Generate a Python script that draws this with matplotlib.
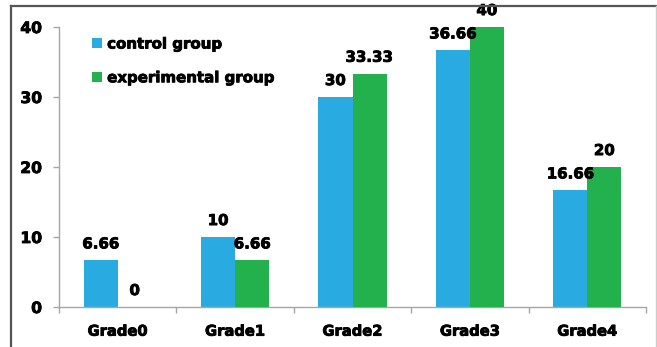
import matplotlib
matplotlib.use("Agg")
import matplotlib.pyplot as plt
from matplotlib.lines import Line2D
import matplotlib.patheffects as pe
import numpy as np

categories = ["Grade0", "Grade1", "Grade2", "Grade3", "Grade4"]
control = [6.66, 10, 30, 36.66, 16.66]
experimental = [0, 6.66, 33.33, 40, 20]
control_labels = ["6.66", "10", "30", "36.66", "16.66"]
experimental_labels = ["0", "6.66", "33.33", "40", "20"]
series_names = ["control group", "experimental group"]
yticks = [0, 10, 20, 30, 40]

c_blue = "#29ABE2"
c_green = "#22B14C"

plt.rcParams['font.family'] = ['DejaVu Sans']
plt.rcParams['font.weight'] = 'bold'

heavy = [pe.withStroke(linewidth=0.6, foreground="black")]

W, H = 657, 347
fig = plt.figure(figsize=(W / 100, H / 100), dpi=100)
ax = fig.add_axes([59 / W, 1 - 307 / H, (646 - 59) / W, (307 - 27) / H])

x = np.arange(len(categories))
bw = 0.29
b1 = ax.bar(x - bw / 2, control, bw, color=c_blue, label=series_names[0], zorder=2)
b2 = ax.bar(x + bw / 2, experimental, bw, color=c_green, label=series_names[1], zorder=3)

for xi, v, t in zip(x - bw / 2, control, control_labels):
    ax.annotate(t, (xi, v), xytext=(0, 8.6), textcoords="offset points",
                ha="center", va="baseline", fontsize=10.8, fontweight="bold",
                annotation_clip=False, zorder=5, path_effects=heavy)
for xi, v, t in zip(x + bw / 2, experimental, experimental_labels):
    ax.annotate(t, (xi, v), xytext=(0, 8.6), textcoords="offset points",
                ha="center", va="baseline", fontsize=10.8, fontweight="bold",
                annotation_clip=False, zorder=5, path_effects=heavy)

ax.set_xlim(-0.5, len(categories) - 0.5)
ax.set_ylim(0, 40)
ax.set_yticks(yticks)
ax.set_yticklabels([str(t) for t in yticks], fontsize=11.2, fontweight="bold")
ax.set_xticks(x)
ax.set_xticklabels(categories, fontsize=10.6, fontweight="bold")
ax.set_xticks(np.arange(-0.5, len(categories)), minor=True)
ax.tick_params(axis="x", which="major", length=0, pad=12)
ax.tick_params(axis="x", which="minor", length=4, width=1, color="#A6A6A6", direction="out")
ax.tick_params(axis="y", length=4.3, width=1, color="#A6A6A6", pad=8)
for lab in ax.get_xticklabels() + ax.get_yticklabels():
    lab.set_path_effects(heavy)

for s in ["top", "right"]:
    ax.spines[s].set_visible(False)
for s in ["left", "bottom"]:
    ax.spines[s].set_color("#A6A6A6")
    ax.spines[s].set_linewidth(1)

leg = ax.legend(loc="upper left", bbox_to_anchor=(92 / W, 1 - 36.5 / H),
                bbox_transform=fig.transFigure, frameon=False,
                handlelength=0.66, handleheight=0.66, handletextpad=0.35,
                labelspacing=1.25, borderpad=0, borderaxespad=0,
                prop={"weight": "bold", "size": 10.8})
for t in leg.get_texts():
    t.set_path_effects(heavy)

# outer frame
fig.add_artist(Line2D([11 / W, 11 / W], [0, 1 - 5.5 / H], transform=fig.transFigure,
                      color="#555555", lw=1.6))
fig.add_artist(Line2D([11 / W, 1], [1 - 5.5 / H, 1 - 5.5 / H], transform=fig.transFigure,
                      color="#555555", lw=1.6))
fig.add_artist(Line2D([655.5 / W, 655.5 / W], [0, 1 - 5.5 / H], transform=fig.transFigure,
                      color="#CCCCCC", lw=1.0))

fig.savefig("out.png", dpi=100)
